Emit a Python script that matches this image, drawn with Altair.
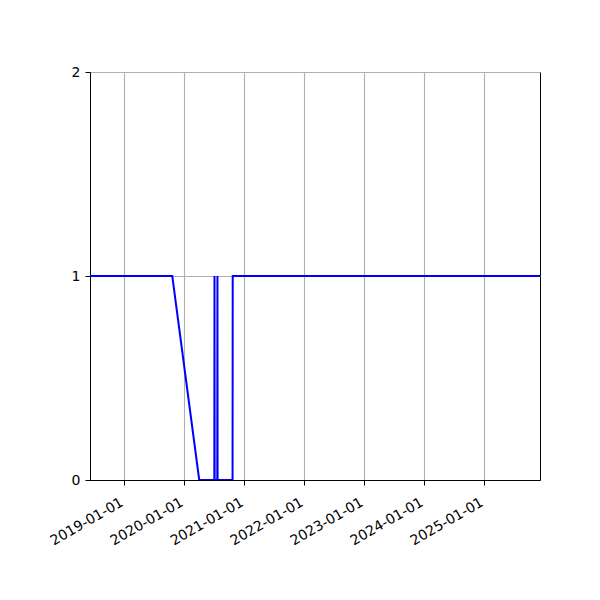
import altair as alt
import pandas as pd

dates = ["2018-06-06", "2019-10-20", "2020-04-01", "2020-07-02", "2020-07-03",
         "2020-07-04", "2020-07-20", "2020-07-21", "2020-07-22", "2020-10-21",
         "2020-10-22", "2025-12-06"]
values = [1, 1, 0, 0, 1, 0, 0, 1, 0, 0, 1, 1]
tick_years = [2019, 2020, 2021, 2022, 2023, 2024, 2025]
y_ticks = [0, 1, 2]

df = pd.DataFrame({"date": dates, "value": values})

x_domain = [alt.DateTime(year=2018, month=6, date=6, utc=True),
            alt.DateTime(year=2025, month=12, date=6, utc=True)]

chart = alt.Chart(df).mark_line(color="#0000ff", strokeWidth=2, clip=True).encode(
    x=alt.X("date:T",
            scale=alt.Scale(type="utc", domain=x_domain, nice=False),
            axis=alt.Axis(title=None,
                          values=[alt.DateTime(year=y, month=1, date=1, utc=True) for y in tick_years],
                          format="%Y-%m-%d", labelAngle=-30, labelAlign="right",
                          labelBaseline="top", labelPadding=10, labelOffset=-6,
                          labelOverlap=False)),
    y=alt.Y("value:Q",
            scale=alt.Scale(domain=[0, 2], nice=False, zero=True),
            axis=alt.Axis(title=None, values=y_ticks, tickCount=3, labelPadding=5,
                          format=".0f", labelOverlap=False)),
).properties(
    width=450, height=408,
    autosize=alt.AutoSizeParams(type="none"),
    padding={"left": 82, "top": 64, "right": 52, "bottom": 112},
).configure_axis(
    domainColor="black", domainWidth=1,
    tickColor="black", tickSize=5, tickWidth=1,
    gridColor="#b0b0b0", gridWidth=1.1,
    labelFont="DejaVu Sans", labelFontSize=14, labelColor="black",
    labelFlush=False,
).configure_view(stroke="black", strokeWidth=1)

chart.save("out.html", embed_options={"renderer": "svg", "actions": False})
